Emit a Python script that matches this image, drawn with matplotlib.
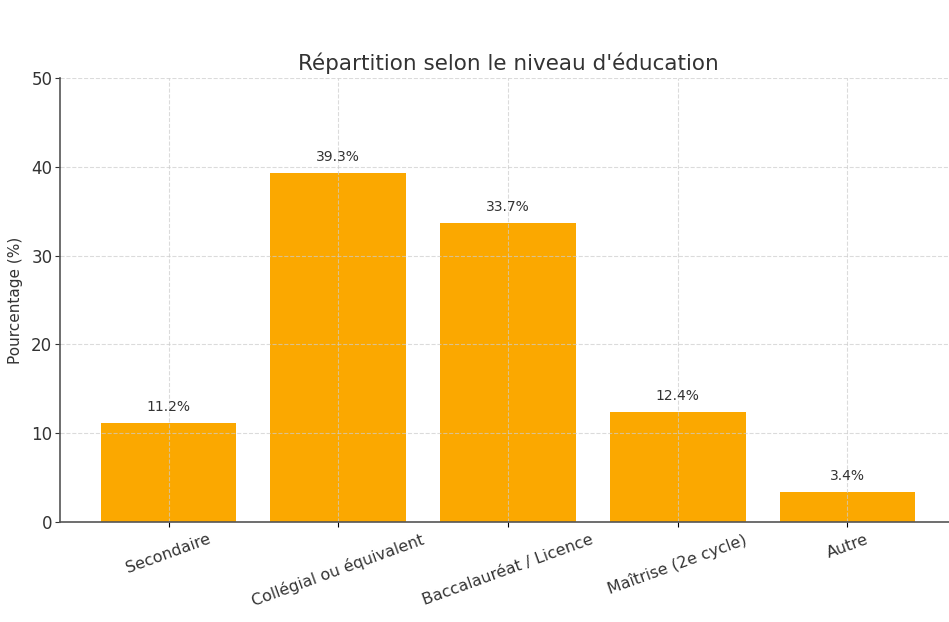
import numpy as np
import matplotlib
matplotlib.use("Agg")
import matplotlib.pyplot as plt

categories = ["Secondaire", "Collégial ou équivalent", "Baccalauréat / Licence",
              "Maîtrise (2e cycle)", "Autre"]
values = [11.2, 39.3, 33.7, 12.4, 3.4]

fig = plt.figure(figsize=(9.49, 6.22), dpi=100)
ax = fig.add_axes([60 / 949, 100 / 622, 896 / 949, 444 / 622])

x = np.arange(len(categories))
bars = ax.bar(x, values, width=0.8, color="#FBA800")

for b, v in zip(bars, values):
    ax.text(b.get_x() + b.get_width() / 2, v + 1, f"{v}%",
            ha="center", va="bottom", fontsize=10, color="#333333")

ax.set_ylim(0, 50)
ax.set_xticks(x)
ax.set_xticklabels(categories, rotation=20, ha="center", fontsize=11.4, color="#333333")
ax.tick_params(axis="y", labelsize=12, colors="#333333", pad=2)
ax.set_ylabel("Pourcentage (%)", fontsize=11, color="#333333", labelpad=6)
ax.set_title("Répartition selon le niveau d'éducation", fontsize=15.5, color="#333333", pad=6)
ax.grid(True, linestyle="--", color="#cccccc", alpha=0.7)
ax.spines["top"].set_visible(False)
ax.spines["right"].set_visible(False)
ax.spines["left"].set_color("#555555")
ax.spines["bottom"].set_color("#555555")
ax.spines["left"].set_linewidth(1.2)
ax.spines["bottom"].set_linewidth(1.2)

fig.savefig("out.png", dpi=100)
